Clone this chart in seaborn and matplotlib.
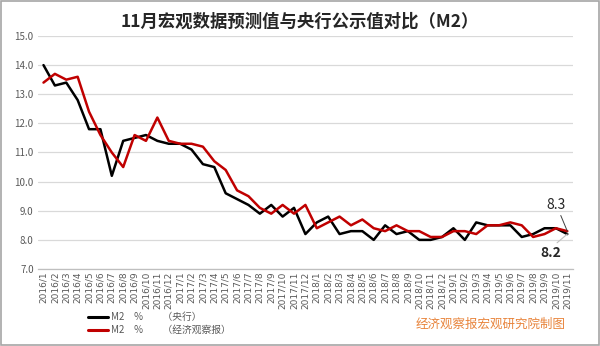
import matplotlib
matplotlib.use("Agg")
import matplotlib.pyplot as plt
import seaborn as sns
import pandas as pd
import numpy as np

months = [f"{y}/{m}" for y in (2016, 2017, 2018) for m in range(1, 13)] + [f"2019/{m}" for m in range(1, 12)]

pboc = [14.0, 13.3, 13.4, 12.8, 11.8, 11.8, 10.2, 11.4, 11.5, 11.6, 11.4, 11.3,
        11.3, 11.1, 10.6, 10.5, 9.6, 9.4, 9.2, 8.9, 9.2, 8.8, 9.1, 8.2,
        8.6, 8.8, 8.2, 8.3, 8.3, 8.0, 8.5, 8.2, 8.3, 8.0, 8.0, 8.1,
        8.4, 8.0, 8.6, 8.5, 8.5, 8.5, 8.1, 8.2, 8.4, 8.4, 8.2]

eeo = [13.4, 13.7, 13.5, 13.6, 12.4, 11.6, 11.0, 10.5, 11.6, 11.4, 12.2, 11.4,
       11.3, 11.3, 11.2, 10.7, 10.4, 9.7, 9.5, 9.1, 8.9, 9.2, 8.9, 9.2,
       8.4, 8.6, 8.8, 8.5, 8.7, 8.4, 8.3, 8.5, 8.3, 8.3, 8.1, 8.1,
       8.3, 8.3, 8.2, 8.5, 8.5, 8.6, 8.5, 8.1, 8.2, 8.4, 8.3]

series_names = ["M2　%　　（央行）", "M2　%　　（经济观察报）"]
colors = ["#000000", "#C00000"]

df = pd.DataFrame({
    "idx": list(range(len(months))) * 2,
    "value": pboc + eeo,
    "series": [series_names[0]] * len(months) + [series_names[1]] * len(months),
})

sns.set_theme(style="white")
plt.rcParams['font.family'] = ['Noto Sans CJK SC', 'DejaVu Sans']

fig = plt.figure(figsize=(6.0, 3.46), dpi=100)
ax = fig.add_axes([0.063, 0.2225, 0.892, 0.6735])

sns.lineplot(data=df, x="idx", y="value", hue="series", palette=colors,
             linewidth=1.8, ax=ax, legend=False)

ax.set_xlim(-0.5, len(months) - 0.5)
ax.set_ylim(7.0, 15.0)
ax.set_yticks(np.arange(7.0, 15.1, 1.0))
ax.set_yticklabels([f"{v:.1f}" for v in np.arange(7.0, 15.1, 1.0)], fontsize=7, color="#595959")
ax.yaxis.grid(True, color="#D9D9D9", linewidth=0.9)
ax.set_axisbelow(True)
ax.tick_params(axis="y", length=0, pad=3)

ax.set_xticks(range(len(months)))
ax.set_xticklabels(months, rotation=90, fontsize=6.5, color="#595959", family="DejaVu Sans")
ax.tick_params(axis="x", length=0, pad=2)
ax.set_xticks(np.arange(-0.5, len(months), 1.0), minor=True)
ax.tick_params(axis="x", which="minor", length=3, color="#BFBFBF", width=0.8)
ax.set_xlabel("")
ax.set_ylabel("")
for s in ["top", "right", "left"]:
    ax.spines[s].set_visible(False)
ax.spines["bottom"].set_color("#BFBFBF")
ax.spines["bottom"].set_linewidth(0.9)

fig.suptitle("11月宏观数据预测值与央行公示值对比（M2）", x=0.5, y=0.965,
             fontsize=12.5, fontweight="bold", color="#262626")

last = len(months) - 1
ax.annotate(f"{eeo[-1]:.1f}", xy=(last, eeo[-1]), xytext=(last - 0.95, 8.95),
            fontsize=10, color="#262626", ha="center", va="bottom",
            arrowprops=dict(arrowstyle="-", color="#404040", lw=0.7, shrinkA=0, shrinkB=0))
ax.annotate("", xy=(last, pboc[-1]), xytext=(last - 0.9, 7.9),
            arrowprops=dict(arrowstyle="-", color="#BFBFBF", lw=0.8, shrinkA=0, shrinkB=0))
ax.text(last - 1.45, 7.55, f"{pboc[-1]:.1f}", fontsize=10, fontweight="bold",
        color="#262626", ha="center", va="center")

# legend
for i, (name, c) in enumerate(zip(series_names, colors)):
    yy = 1 - (317 + i * 13) / 346
    fig.add_artist(plt.Line2D([88 / 600, 108 / 600], [yy, yy], color=c, lw=2.2,
                              transform=fig.transFigure))
    fig.text(111 / 600, yy, name, fontsize=7, color="#595959", va="center", ha="left")

fig.text(566 / 600, 1 - 324 / 346, "经济观察报宏观研究院制图", fontsize=9,
         color="#E8833A", ha="right", va="center")

fig.patches.append(plt.Rectangle((0.002, 0.003), 0.996, 0.994, transform=fig.transFigure,
                                 fill=False, edgecolor="#A6A6A6", linewidth=1.2))

fig.savefig("out.png", dpi=100)
